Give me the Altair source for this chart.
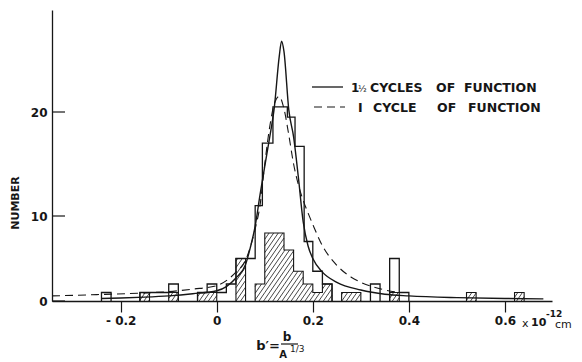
import numpy as np
import pandas as pd
import altair as alt

# ---------------- data ----------------
# open (all events) histogram bins
open_left = [-0.24, -0.16, -0.14, -0.12, -0.10, -0.04, -0.02, 0.00, 0.02, 0.04, 0.06, 0.08,
             0.095, 0.117, 0.147, 0.163, 0.182, 0.20, 0.22, 0.32, 0.36, 0.38]
open_right = [-0.22, -0.14, -0.12, -0.10, -0.08, -0.02, 0.00, 0.02, 0.04, 0.06, 0.08, 0.095,
              0.117, 0.147, 0.163, 0.182, 0.20, 0.22, 0.24, 0.34, 0.38, 0.40]
open_count = [1, 1, 1, 1, 2, 1, 2, 1, 2, 5, 5, 11, 17, 20.5, 19.5, 16.7, 7, 3.5, 2, 2, 5, 1]

# hatched subset histogram bins
hatch_left = [-0.16, -0.10, -0.04, 0.04, 0.08, 0.10, 0.14, 0.16, 0.18, 0.20, 0.22, 0.26, 0.36, 0.52, 0.62]
hatch_right = [-0.14, -0.08, 0.00, 0.06, 0.10, 0.14, 0.16, 0.18, 0.20, 0.22, 0.24, 0.30, 0.38, 0.54, 0.64]
hatch_count = [1, 1, 1, 5, 2, 8, 6, 3.5, 2, 1, 2, 1, 1, 1, 1]

# "1 1/2 cycles of function" (solid curve)
solid_x = [-0.24, -0.20, -0.15, -0.10, -0.05, 0.00, 0.02, 0.04, 0.06, 0.07, 0.08, 0.09, 0.10,
           0.11, 0.12, 0.13, 0.135, 0.14, 0.15, 0.16, 0.17, 0.18, 0.19, 0.20, 0.22, 0.25,
           0.30, 0.35, 0.40, 0.50, 0.60, 0.68]
solid_y = [0.3, 0.35, 0.45, 0.6, 0.85, 1.2, 1.7, 2.7, 4.3, 6.3, 8.8, 12.0, 14.8,
           17.5, 20.5, 25.3, 26.8, 25.8, 20.2, 17.6, 13.7, 9.3, 6.5, 5.0, 3.4, 2.2,
           1.3, 0.8, 0.6, 0.4, 0.3, 0.25]

# "1 cycle of function" (dashed curve)
dash_x = [-0.343, -0.25, -0.15, -0.10, -0.05, 0.00, 0.02, 0.04, 0.06, 0.08, 0.09, 0.10, 0.11,
          0.12, 0.13, 0.14, 0.15, 0.16, 0.17, 0.18, 0.19, 0.20, 0.22, 0.25, 0.28, 0.30,
          0.35, 0.38]
dash_y = [0.6, 0.75, 0.95, 1.1, 1.4, 1.8, 2.4, 3.4, 4.8, 8.5, 11.0, 15.0, 18.5,
          20.8, 21.5, 20.3, 17.8, 15.0, 13.0, 11.5, 10.3, 9.0, 6.5, 4.2, 2.8, 2.2,
          1.3, 1.0]

x_ticks = [-0.2, 0.0, 0.2, 0.4, 0.6]
y_ticks = [0, 10, 20]

# ---------------- layout ----------------
XMIN, XMAX = -0.343, 0.698
W, H = 500, 291
INK = "#161616"
FONT = "DejaVu Sans"
sx = W / (XMAX - XMIN)
# the printed value axis is not uniform: 0-10 is shorter than 10-20
Y_DOM = [0, 10, 20, 29.8]
Y_RNG = [291, 206, 102, 0]


def pix_y(v):
    return np.interp(v, Y_DOM, Y_RNG)


def val_y(p):
    return np.interp(p, Y_RNG[::-1], Y_DOM[::-1])


xs = alt.Scale(domain=[XMIN, XMAX], nice=False, zero=False)
ys = alt.Scale(domain=Y_DOM, range=Y_RNG, nice=False, zero=False)


def outline(left, right, count):
    rows = []
    run = 0
    order = 0
    for i, (l, r, c) in enumerate(zip(left, right, count)):
        if i == 0 or abs(l - right[i - 1]) > 1e-9:
            if i > 0:
                rows.append((run, order, right[i - 1], 0)); order += 1
                run += 1
            rows.append((run, order, l, 0)); order += 1
        rows.append((run, order, l, c)); order += 1
        rows.append((run, order, r, c)); order += 1
    rows.append((run, order, right[-1], 0))
    return pd.DataFrame(rows, columns=["run", "i", "x", "y"])


def hatch_lines(left, right, count, slope=1.45, spacing=4.6):
    rows = []
    for l, r, c in zip(left, right, count):
        L = (l - XMIN) * sx
        R = (r - XMIN) * sx
        Ht = 291 - pix_y(c)           # bar height in pixels
        k = int(np.floor((L - Ht / slope) / spacing))
        while k * spacing < R:
            cst = k * spacing
            p0 = max(0.0, slope * (L - cst))
            p1 = min(Ht, slope * (R - cst))
            if p1 - p0 > 0.5:
                rows.append((XMIN + (cst + p0 / slope) / sx, float(val_y(291 - p0)),
                             XMIN + (cst + p1 / slope) / sx, float(val_y(291 - p1))))
            k += 1
    return pd.DataFrame(rows, columns=["x", "y", "x2", "y2"])


open_df = outline(open_left, open_right, open_count)
hat_df = outline(hatch_left, hatch_right, hatch_count)
hl_df = hatch_lines(hatch_left, hatch_right, hatch_count)
solid_df = pd.DataFrame({"x": solid_x, "y": solid_y})
dash_df = pd.DataFrame({"x": dash_x, "y": dash_y})
ytick_df = pd.DataFrame({"y": y_ticks})
one = pd.DataFrame({"a": [0]})

xaxis = alt.Axis(values=x_ticks, tickSize=11, labelPadding=3, title=None,
                 labelExpr="datum.value < -0.1 ? '- 0.2' : format(datum.value, '.1~f')")
yaxis = alt.Axis(values=y_ticks, tickSize=0, labelPadding=5, title=None)

hatch = alt.Chart(hl_df).mark_rule(color=INK, strokeWidth=0.8).encode(
    x=alt.X("x:Q", scale=xs, axis=xaxis), y=alt.Y("y:Q", scale=ys, axis=yaxis),
    x2="x2:Q", y2="y2:Q")

open_line = alt.Chart(open_df).mark_line(color=INK, strokeWidth=1.3, interpolate="linear").encode(
    x=alt.X("x:Q", scale=xs), y=alt.Y("y:Q", scale=ys), detail="run:N", order="i:Q")

hat_line = alt.Chart(hat_df).mark_line(color=INK, strokeWidth=1.1, interpolate="linear").encode(
    x=alt.X("x:Q", scale=xs), y=alt.Y("y:Q", scale=ys), detail="run:N", order="i:Q")

solid = alt.Chart(solid_df).mark_line(color=INK, strokeWidth=1.4, interpolate="monotone").encode(
    x=alt.X("x:Q", scale=xs), y=alt.Y("y:Q", scale=ys))

dashed = alt.Chart(dash_df).mark_line(color=INK, strokeWidth=1.1, strokeDash=[8, 5],
                                       interpolate="monotone").encode(
    x=alt.X("x:Q", scale=xs), y=alt.Y("y:Q", scale=ys))

yticks = alt.Chart(ytick_df).mark_rule(color=INK, strokeWidth=1.2).encode(
    x=alt.value(0), x2=alt.value(13), y=alt.Y("y:Q", scale=ys))


def txt(text, x, y, size=12, align="left", angle=0, weight="bold", baseline="middle"):
    return alt.Chart(one).mark_text(text=text, align=align, baseline=baseline, angle=angle,
                                    fontSize=size, font=FONT, fontWeight=weight,
                                    color=INK).encode(x=alt.value(x), y=alt.value(y))


def seg(x1, x2, y, dash=None, width=1.3):
    kw = dict(color=INK, strokeWidth=width)
    if dash:
        kw["strokeDash"] = dash
    return alt.Chart(one).mark_rule(**kw).encode(x=alt.value(x1), x2=alt.value(x2), y=alt.value(y))


texts = [
    txt("NUMBER", -36, 193, size=11, angle=270, align="center"),
    # legend
    seg(260, 291, 77), seg(262, 293, 97, dash=[8, 5], width=1.1),
    txt("1", 299, 78, size=12), txt("½", 306, 79, size=9, weight="normal"),
    txt("CYCLES", 318, 78, size=12.5),
    txt("OF", 384, 78, size=12.5), txt("FUNCTION", 412, 78, size=12.5),
    txt("I", 306, 98, size=12.5), txt("CYCLE", 321, 98, size=12.5),
    txt("OF", 385, 98, size=12.5), txt("FUNCTION", 416, 98, size=12.5),
    # x-axis title  b' = b / A^(1/3)
    txt("b′=", 216, 336, size=13, align="center"),
    txt("b", 235, 327, size=12, align="center"),
    seg(229, 246, 334, width=1.2),
    txt("A", 231, 345, size=10, align="center"),
    txt("1/3", 238, 339, size=9, weight="normal"),
    # units after 0.6
    txt("x", 470, 314, size=11, weight="normal"),
    txt("10", 479, 313, size=11),
    txt("-12", 494, 304, size=9),
    txt("cm", 503, 315, size=11, weight="normal"),
]

chart = alt.layer(hatch, hat_line, open_line, dashed, solid, yticks, *texts).properties(
    width=W, height=H,
    autosize=alt.AutoSizeParams(type="none"),
    padding={"left": 44, "top": 2, "right": 22, "bottom": 60},
).configure_view(stroke=None).configure_axis(
    grid=False, domainColor=INK, domainWidth=1.3, tickColor=INK, tickWidth=1.2,
    labelFont=FONT, labelFontSize=12, labelFontWeight="bold", labelColor=INK,
)

chart.save("out.html", embed_options={"renderer": "svg", "actions": False})
